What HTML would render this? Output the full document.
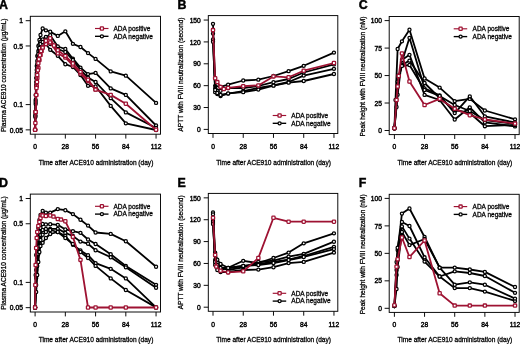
<!DOCTYPE html><html><head><meta charset="utf-8"><style>
html,body{margin:0;padding:0;background:#fff;width:520px;height:344px;overflow:hidden}
svg{display:block;will-change:transform}
.t{font-family:"Liberation Sans", sans-serif;font-size:6.7px;fill:#000;stroke:#000;stroke-width:0.4px}
.ti{font-family:"Liberation Sans", sans-serif;font-size:6.57px;fill:#000;stroke:#000;stroke-width:0.28px}
.lg{font-family:"Liberation Sans", sans-serif;font-size:6.5px;fill:#000;stroke:#000;stroke-width:0.28px}
.pl{font-family:"Liberation Sans", sans-serif;font-size:12.4px;font-weight:bold;fill:#000;stroke:#000;stroke-width:0.45px}
</style></head><body>
<svg width="520" height="344" viewBox="0 0 520 344">
<rect x="30.3" y="16.3" width="130.2" height="117.9" fill="none" stroke="#000" stroke-width="0.95"/><line x1="35.1" y1="134.2" x2="35.1" y2="138.6" stroke="#000" stroke-width="0.95"/><text x="35.1" y="149" text-anchor="middle" class="t">0</text><line x1="65.34" y1="134.2" x2="65.34" y2="138.6" stroke="#000" stroke-width="0.95"/><text x="65.34" y="149" text-anchor="middle" class="t">28</text><line x1="95.58" y1="134.2" x2="95.58" y2="138.6" stroke="#000" stroke-width="0.95"/><text x="95.58" y="149" text-anchor="middle" class="t">56</text><line x1="125.82" y1="134.2" x2="125.82" y2="138.6" stroke="#000" stroke-width="0.95"/><text x="125.82" y="149" text-anchor="middle" class="t">84</text><line x1="156.06" y1="134.2" x2="156.06" y2="138.6" stroke="#000" stroke-width="0.95"/><text x="156.06" y="149" text-anchor="middle" class="t">112</text><line x1="25.7" y1="20.7" x2="30.3" y2="20.7" stroke="#000" stroke-width="0.95"/><text x="22.9" y="23.35" text-anchor="end" class="t">1</text><line x1="25.7" y1="45.96" x2="30.3" y2="45.96" stroke="#000" stroke-width="0.95"/><text x="22.9" y="48.61" text-anchor="end" class="t">0.5</text><line x1="25.7" y1="104.6" x2="30.3" y2="104.6" stroke="#000" stroke-width="0.95"/><text x="22.9" y="107.25" text-anchor="end" class="t">0.1</text><line x1="25.7" y1="129.86" x2="30.3" y2="129.86" stroke="#000" stroke-width="0.95"/><text x="22.9" y="132.51" text-anchor="end" class="t">0.05</text><text x="96" y="164.6" text-anchor="middle" class="ti">Time after ACE910 administration (day)</text><text transform="translate(6,75.25) rotate(-90)" text-anchor="middle" class="ti">Plasma ACE910 concentration (μg/mL)</text>
<polyline fill="none" stroke="#000" stroke-width="1.8" stroke-linejoin="round" points="35.1,129.8 35.37,112 35.64,95 36.18,78 36.72,66 37.26,56 38.34,46 39.42,40 40.5,35 42.66,28.5 45.9,30.3 50.22,31.7 57.78,35.9 65.34,31.3 72.9,43.8 80.46,47 88.02,53.1 95.58,58.9 110.7,71.4 125.82,75.7 156.06,102.9"/><circle cx="35.1" cy="129.8" r="1.55" fill="#fff" stroke="#000" stroke-width="1.25"/><circle cx="35.37" cy="112" r="1.55" fill="#fff" stroke="#000" stroke-width="1.25"/><circle cx="35.64" cy="95" r="1.55" fill="#fff" stroke="#000" stroke-width="1.25"/><circle cx="36.18" cy="78" r="1.55" fill="#fff" stroke="#000" stroke-width="1.25"/><circle cx="36.72" cy="66" r="1.55" fill="#fff" stroke="#000" stroke-width="1.25"/><circle cx="37.26" cy="56" r="1.55" fill="#fff" stroke="#000" stroke-width="1.25"/><circle cx="38.34" cy="46" r="1.55" fill="#fff" stroke="#000" stroke-width="1.25"/><circle cx="39.42" cy="40" r="1.55" fill="#fff" stroke="#000" stroke-width="1.25"/><circle cx="40.5" cy="35" r="1.55" fill="#fff" stroke="#000" stroke-width="1.25"/><circle cx="42.66" cy="28.5" r="1.55" fill="#fff" stroke="#000" stroke-width="1.25"/><circle cx="45.9" cy="30.3" r="1.55" fill="#fff" stroke="#000" stroke-width="1.25"/><circle cx="50.22" cy="31.7" r="1.55" fill="#fff" stroke="#000" stroke-width="1.25"/><circle cx="57.78" cy="35.9" r="1.55" fill="#fff" stroke="#000" stroke-width="1.25"/><circle cx="65.34" cy="31.3" r="1.55" fill="#fff" stroke="#000" stroke-width="1.25"/><circle cx="72.9" cy="43.8" r="1.55" fill="#fff" stroke="#000" stroke-width="1.25"/><circle cx="80.46" cy="47" r="1.55" fill="#fff" stroke="#000" stroke-width="1.25"/><circle cx="88.02" cy="53.1" r="1.55" fill="#fff" stroke="#000" stroke-width="1.25"/><circle cx="95.58" cy="58.9" r="1.55" fill="#fff" stroke="#000" stroke-width="1.25"/><circle cx="110.7" cy="71.4" r="1.55" fill="#fff" stroke="#000" stroke-width="1.25"/><circle cx="125.82" cy="75.7" r="1.55" fill="#fff" stroke="#000" stroke-width="1.25"/><circle cx="156.06" cy="102.9" r="1.55" fill="#fff" stroke="#000" stroke-width="1.25"/>
<polyline fill="none" stroke="#000" stroke-width="1.8" stroke-linejoin="round" points="35.1,129.8 35.37,115 35.64,100 36.18,82 36.72,70 37.26,61 38.34,51 39.42,45 40.5,42 42.66,39.3 45.9,36.8 50.22,35.2 57.78,46.5 65.34,49 72.9,58.7 80.46,67.6 88.02,74.1 95.58,72.9 110.7,88.4 125.82,94.9 156.06,125.5"/><circle cx="35.1" cy="129.8" r="1.55" fill="#fff" stroke="#000" stroke-width="1.25"/><circle cx="35.37" cy="115" r="1.55" fill="#fff" stroke="#000" stroke-width="1.25"/><circle cx="35.64" cy="100" r="1.55" fill="#fff" stroke="#000" stroke-width="1.25"/><circle cx="36.18" cy="82" r="1.55" fill="#fff" stroke="#000" stroke-width="1.25"/><circle cx="36.72" cy="70" r="1.55" fill="#fff" stroke="#000" stroke-width="1.25"/><circle cx="37.26" cy="61" r="1.55" fill="#fff" stroke="#000" stroke-width="1.25"/><circle cx="38.34" cy="51" r="1.55" fill="#fff" stroke="#000" stroke-width="1.25"/><circle cx="39.42" cy="45" r="1.55" fill="#fff" stroke="#000" stroke-width="1.25"/><circle cx="40.5" cy="42" r="1.55" fill="#fff" stroke="#000" stroke-width="1.25"/><circle cx="42.66" cy="39.3" r="1.55" fill="#fff" stroke="#000" stroke-width="1.25"/><circle cx="45.9" cy="36.8" r="1.55" fill="#fff" stroke="#000" stroke-width="1.25"/><circle cx="50.22" cy="35.2" r="1.55" fill="#fff" stroke="#000" stroke-width="1.25"/><circle cx="57.78" cy="46.5" r="1.55" fill="#fff" stroke="#000" stroke-width="1.25"/><circle cx="65.34" cy="49" r="1.55" fill="#fff" stroke="#000" stroke-width="1.25"/><circle cx="72.9" cy="58.7" r="1.55" fill="#fff" stroke="#000" stroke-width="1.25"/><circle cx="80.46" cy="67.6" r="1.55" fill="#fff" stroke="#000" stroke-width="1.25"/><circle cx="88.02" cy="74.1" r="1.55" fill="#fff" stroke="#000" stroke-width="1.25"/><circle cx="95.58" cy="72.9" r="1.55" fill="#fff" stroke="#000" stroke-width="1.25"/><circle cx="110.7" cy="88.4" r="1.55" fill="#fff" stroke="#000" stroke-width="1.25"/><circle cx="125.82" cy="94.9" r="1.55" fill="#fff" stroke="#000" stroke-width="1.25"/><circle cx="156.06" cy="125.5" r="1.55" fill="#fff" stroke="#000" stroke-width="1.25"/>
<polyline fill="none" stroke="#000" stroke-width="1.8" stroke-linejoin="round" points="35.1,129.8 35.37,117 35.64,104 36.18,87 36.72,75 37.26,66 38.34,56 39.42,50 40.5,47 42.66,45 45.9,44 50.22,49.8 57.78,55.8 65.34,64.2 72.9,67 80.46,75 88.02,85.8 95.58,86.3 110.7,105.9 125.82,123.3 156.06,130"/><circle cx="35.1" cy="129.8" r="1.55" fill="#fff" stroke="#000" stroke-width="1.25"/><circle cx="35.37" cy="117" r="1.55" fill="#fff" stroke="#000" stroke-width="1.25"/><circle cx="35.64" cy="104" r="1.55" fill="#fff" stroke="#000" stroke-width="1.25"/><circle cx="36.18" cy="87" r="1.55" fill="#fff" stroke="#000" stroke-width="1.25"/><circle cx="36.72" cy="75" r="1.55" fill="#fff" stroke="#000" stroke-width="1.25"/><circle cx="37.26" cy="66" r="1.55" fill="#fff" stroke="#000" stroke-width="1.25"/><circle cx="38.34" cy="56" r="1.55" fill="#fff" stroke="#000" stroke-width="1.25"/><circle cx="39.42" cy="50" r="1.55" fill="#fff" stroke="#000" stroke-width="1.25"/><circle cx="40.5" cy="47" r="1.55" fill="#fff" stroke="#000" stroke-width="1.25"/><circle cx="42.66" cy="45" r="1.55" fill="#fff" stroke="#000" stroke-width="1.25"/><circle cx="45.9" cy="44" r="1.55" fill="#fff" stroke="#000" stroke-width="1.25"/><circle cx="50.22" cy="49.8" r="1.55" fill="#fff" stroke="#000" stroke-width="1.25"/><circle cx="57.78" cy="55.8" r="1.55" fill="#fff" stroke="#000" stroke-width="1.25"/><circle cx="65.34" cy="64.2" r="1.55" fill="#fff" stroke="#000" stroke-width="1.25"/><circle cx="72.9" cy="67" r="1.55" fill="#fff" stroke="#000" stroke-width="1.25"/><circle cx="80.46" cy="75" r="1.55" fill="#fff" stroke="#000" stroke-width="1.25"/><circle cx="88.02" cy="85.8" r="1.55" fill="#fff" stroke="#000" stroke-width="1.25"/><circle cx="95.58" cy="86.3" r="1.55" fill="#fff" stroke="#000" stroke-width="1.25"/><circle cx="110.7" cy="105.9" r="1.55" fill="#fff" stroke="#000" stroke-width="1.25"/><circle cx="125.82" cy="123.3" r="1.55" fill="#fff" stroke="#000" stroke-width="1.25"/><circle cx="156.06" cy="130" r="1.55" fill="#fff" stroke="#000" stroke-width="1.25"/>
<polyline fill="none" stroke="#000" stroke-width="1.8" stroke-linejoin="round" points="35.1,129.8 35.37,116 35.64,102 36.18,85 36.72,73 37.26,64 38.34,54 39.42,48 40.5,44 42.66,42 45.9,40 50.22,44 57.78,49 65.34,52 72.9,60 80.46,70 88.02,77.6 95.58,82 110.7,98.2 125.82,112.4 156.06,128"/><circle cx="35.1" cy="129.8" r="1.55" fill="#fff" stroke="#000" stroke-width="1.25"/><circle cx="35.37" cy="116" r="1.55" fill="#fff" stroke="#000" stroke-width="1.25"/><circle cx="35.64" cy="102" r="1.55" fill="#fff" stroke="#000" stroke-width="1.25"/><circle cx="36.18" cy="85" r="1.55" fill="#fff" stroke="#000" stroke-width="1.25"/><circle cx="36.72" cy="73" r="1.55" fill="#fff" stroke="#000" stroke-width="1.25"/><circle cx="37.26" cy="64" r="1.55" fill="#fff" stroke="#000" stroke-width="1.25"/><circle cx="38.34" cy="54" r="1.55" fill="#fff" stroke="#000" stroke-width="1.25"/><circle cx="39.42" cy="48" r="1.55" fill="#fff" stroke="#000" stroke-width="1.25"/><circle cx="40.5" cy="44" r="1.55" fill="#fff" stroke="#000" stroke-width="1.25"/><circle cx="42.66" cy="42" r="1.55" fill="#fff" stroke="#000" stroke-width="1.25"/><circle cx="45.9" cy="40" r="1.55" fill="#fff" stroke="#000" stroke-width="1.25"/><circle cx="50.22" cy="44" r="1.55" fill="#fff" stroke="#000" stroke-width="1.25"/><circle cx="57.78" cy="49" r="1.55" fill="#fff" stroke="#000" stroke-width="1.25"/><circle cx="65.34" cy="52" r="1.55" fill="#fff" stroke="#000" stroke-width="1.25"/><circle cx="72.9" cy="60" r="1.55" fill="#fff" stroke="#000" stroke-width="1.25"/><circle cx="80.46" cy="70" r="1.55" fill="#fff" stroke="#000" stroke-width="1.25"/><circle cx="88.02" cy="77.6" r="1.55" fill="#fff" stroke="#000" stroke-width="1.25"/><circle cx="95.58" cy="82" r="1.55" fill="#fff" stroke="#000" stroke-width="1.25"/><circle cx="110.7" cy="98.2" r="1.55" fill="#fff" stroke="#000" stroke-width="1.25"/><circle cx="125.82" cy="112.4" r="1.55" fill="#fff" stroke="#000" stroke-width="1.25"/><circle cx="156.06" cy="128" r="1.55" fill="#fff" stroke="#000" stroke-width="1.25"/>
<polyline fill="none" stroke="#9e1232" stroke-width="1.8" stroke-linejoin="round" points="35.1,129.8 35.64,112 36.18,95 36.72,86 37.26,78 38.34,68 39.42,60 40.5,55 41.58,51 42.66,47.6 45.9,44.1 50.22,42.4 57.78,53.3 65.34,57.6 72.9,65.3 80.46,73.5 88.02,81.1 95.58,89.6"/><rect x="33.5" y="128.2" width="3.2" height="3.2" rx="0.7" fill="#fff" stroke="#9e1232" stroke-width="1.3"/><rect x="34.04" y="110.4" width="3.2" height="3.2" rx="0.7" fill="#fff" stroke="#9e1232" stroke-width="1.3"/><rect x="34.58" y="93.4" width="3.2" height="3.2" rx="0.7" fill="#fff" stroke="#9e1232" stroke-width="1.3"/><rect x="35.12" y="84.4" width="3.2" height="3.2" rx="0.7" fill="#fff" stroke="#9e1232" stroke-width="1.3"/><rect x="35.66" y="76.4" width="3.2" height="3.2" rx="0.7" fill="#fff" stroke="#9e1232" stroke-width="1.3"/><rect x="36.74" y="66.4" width="3.2" height="3.2" rx="0.7" fill="#fff" stroke="#9e1232" stroke-width="1.3"/><rect x="37.82" y="58.4" width="3.2" height="3.2" rx="0.7" fill="#fff" stroke="#9e1232" stroke-width="1.3"/><rect x="38.9" y="53.4" width="3.2" height="3.2" rx="0.7" fill="#fff" stroke="#9e1232" stroke-width="1.3"/><rect x="39.98" y="49.4" width="3.2" height="3.2" rx="0.7" fill="#fff" stroke="#9e1232" stroke-width="1.3"/><rect x="41.06" y="46" width="3.2" height="3.2" rx="0.7" fill="#fff" stroke="#9e1232" stroke-width="1.3"/><rect x="44.3" y="42.5" width="3.2" height="3.2" rx="0.7" fill="#fff" stroke="#9e1232" stroke-width="1.3"/><rect x="48.62" y="40.8" width="3.2" height="3.2" rx="0.7" fill="#fff" stroke="#9e1232" stroke-width="1.3"/><rect x="56.18" y="51.7" width="3.2" height="3.2" rx="0.7" fill="#fff" stroke="#9e1232" stroke-width="1.3"/><rect x="63.74" y="56" width="3.2" height="3.2" rx="0.7" fill="#fff" stroke="#9e1232" stroke-width="1.3"/><rect x="71.3" y="63.7" width="3.2" height="3.2" rx="0.7" fill="#fff" stroke="#9e1232" stroke-width="1.3"/><rect x="78.86" y="71.9" width="3.2" height="3.2" rx="0.7" fill="#fff" stroke="#9e1232" stroke-width="1.3"/><rect x="86.42" y="79.5" width="3.2" height="3.2" rx="0.7" fill="#fff" stroke="#9e1232" stroke-width="1.3"/><rect x="93.98" y="88" width="3.2" height="3.2" rx="0.7" fill="#fff" stroke="#9e1232" stroke-width="1.3"/>
<polyline fill="none" stroke="#9e1232" stroke-width="1.8" stroke-linejoin="round" points="35.1,129.8 35.37,123 35.64,112 36.18,95 36.45,88 36.99,82 37.26,75 37.8,70.3 38.34,63.3 38.88,59.3 39.96,55.2 41.04,51.1 42.66,47.6 45.9,40.7 50.22,38.3 54,45.5 57.78,50.2 65.34,55.9 72.9,63.5 80.46,71.9 88.02,79.8 95.58,89.6 110.7,94.9 125.82,103.7 156.06,129.8"/><rect x="33.5" y="128.2" width="3.2" height="3.2" rx="0.7" fill="#fff" stroke="#9e1232" stroke-width="1.3"/><rect x="33.77" y="121.4" width="3.2" height="3.2" rx="0.7" fill="#fff" stroke="#9e1232" stroke-width="1.3"/><rect x="34.04" y="110.4" width="3.2" height="3.2" rx="0.7" fill="#fff" stroke="#9e1232" stroke-width="1.3"/><rect x="34.58" y="93.4" width="3.2" height="3.2" rx="0.7" fill="#fff" stroke="#9e1232" stroke-width="1.3"/><rect x="34.85" y="86.4" width="3.2" height="3.2" rx="0.7" fill="#fff" stroke="#9e1232" stroke-width="1.3"/><rect x="35.39" y="80.4" width="3.2" height="3.2" rx="0.7" fill="#fff" stroke="#9e1232" stroke-width="1.3"/><rect x="35.66" y="73.4" width="3.2" height="3.2" rx="0.7" fill="#fff" stroke="#9e1232" stroke-width="1.3"/><rect x="36.2" y="68.7" width="3.2" height="3.2" rx="0.7" fill="#fff" stroke="#9e1232" stroke-width="1.3"/><rect x="36.74" y="61.7" width="3.2" height="3.2" rx="0.7" fill="#fff" stroke="#9e1232" stroke-width="1.3"/><rect x="37.28" y="57.7" width="3.2" height="3.2" rx="0.7" fill="#fff" stroke="#9e1232" stroke-width="1.3"/><rect x="38.36" y="53.6" width="3.2" height="3.2" rx="0.7" fill="#fff" stroke="#9e1232" stroke-width="1.3"/><rect x="39.44" y="49.5" width="3.2" height="3.2" rx="0.7" fill="#fff" stroke="#9e1232" stroke-width="1.3"/><rect x="41.06" y="46" width="3.2" height="3.2" rx="0.7" fill="#fff" stroke="#9e1232" stroke-width="1.3"/><rect x="44.3" y="39.1" width="3.2" height="3.2" rx="0.7" fill="#fff" stroke="#9e1232" stroke-width="1.3"/><rect x="48.62" y="36.7" width="3.2" height="3.2" rx="0.7" fill="#fff" stroke="#9e1232" stroke-width="1.3"/><rect x="52.4" y="43.9" width="3.2" height="3.2" rx="0.7" fill="#fff" stroke="#9e1232" stroke-width="1.3"/><rect x="56.18" y="48.6" width="3.2" height="3.2" rx="0.7" fill="#fff" stroke="#9e1232" stroke-width="1.3"/><rect x="63.74" y="54.3" width="3.2" height="3.2" rx="0.7" fill="#fff" stroke="#9e1232" stroke-width="1.3"/><rect x="71.3" y="61.9" width="3.2" height="3.2" rx="0.7" fill="#fff" stroke="#9e1232" stroke-width="1.3"/><rect x="78.86" y="70.3" width="3.2" height="3.2" rx="0.7" fill="#fff" stroke="#9e1232" stroke-width="1.3"/><rect x="86.42" y="78.2" width="3.2" height="3.2" rx="0.7" fill="#fff" stroke="#9e1232" stroke-width="1.3"/><rect x="93.98" y="88" width="3.2" height="3.2" rx="0.7" fill="#fff" stroke="#9e1232" stroke-width="1.3"/><rect x="109.1" y="93.3" width="3.2" height="3.2" rx="0.7" fill="#fff" stroke="#9e1232" stroke-width="1.3"/><rect x="124.22" y="102.1" width="3.2" height="3.2" rx="0.7" fill="#fff" stroke="#9e1232" stroke-width="1.3"/><rect x="154.46" y="128.2" width="3.2" height="3.2" rx="0.7" fill="#fff" stroke="#9e1232" stroke-width="1.3"/>
<line x1="95" y1="28.5" x2="108.5" y2="28.5" stroke="#9e1232" stroke-width="1.15"/><rect x="100.3" y="26.9" width="3.2" height="3.2" rx="0.7" fill="#fff" stroke="#9e1232" stroke-width="1.3"/><text x="113.5" y="30.8" class="lg">ADA positive</text><line x1="95" y1="36.3" x2="108.5" y2="36.3" stroke="#000" stroke-width="1.35"/><circle cx="101.9" cy="36.3" r="1.55" fill="#fff" stroke="#000" stroke-width="1.25"/><text x="113.5" y="38.6" class="lg">ADA negative</text>
<text x="-0.9" y="8.7" class="pl">A</text>
<rect x="30.3" y="194.1" width="130.2" height="117.9" fill="none" stroke="#000" stroke-width="0.95"/><line x1="35.1" y1="312" x2="35.1" y2="316.4" stroke="#000" stroke-width="0.95"/><text x="35.1" y="326.8" text-anchor="middle" class="t">0</text><line x1="65.34" y1="312" x2="65.34" y2="316.4" stroke="#000" stroke-width="0.95"/><text x="65.34" y="326.8" text-anchor="middle" class="t">28</text><line x1="95.58" y1="312" x2="95.58" y2="316.4" stroke="#000" stroke-width="0.95"/><text x="95.58" y="326.8" text-anchor="middle" class="t">56</text><line x1="125.82" y1="312" x2="125.82" y2="316.4" stroke="#000" stroke-width="0.95"/><text x="125.82" y="326.8" text-anchor="middle" class="t">84</text><line x1="156.06" y1="312" x2="156.06" y2="316.4" stroke="#000" stroke-width="0.95"/><text x="156.06" y="326.8" text-anchor="middle" class="t">112</text><line x1="25.7" y1="198.5" x2="30.3" y2="198.5" stroke="#000" stroke-width="0.95"/><text x="22.9" y="201.15" text-anchor="end" class="t">1</text><line x1="25.7" y1="223.76" x2="30.3" y2="223.76" stroke="#000" stroke-width="0.95"/><text x="22.9" y="226.41" text-anchor="end" class="t">0.5</text><line x1="25.7" y1="282.4" x2="30.3" y2="282.4" stroke="#000" stroke-width="0.95"/><text x="22.9" y="285.05" text-anchor="end" class="t">0.1</text><line x1="25.7" y1="307.66" x2="30.3" y2="307.66" stroke="#000" stroke-width="0.95"/><text x="22.9" y="310.31" text-anchor="end" class="t">0.05</text><text x="96" y="342.4" text-anchor="middle" class="ti">Time after ACE910 administration (day)</text><text transform="translate(6,253.05) rotate(-90)" text-anchor="middle" class="ti">Plasma ACE910 concentration (μg/mL)</text>
<polyline fill="none" stroke="#000" stroke-width="1.8" stroke-linejoin="round" points="35.1,307.5 35.64,275 36.18,255 37.26,238 38.34,228 39.42,220 40.5,215 42.66,210.8 45.9,212.6 50.22,212.6 57.78,209.1 65.34,210.2 72.9,214.1 80.46,219.7 88.02,225.6 95.58,232.5 110.7,233.9 125.82,241.2 156.06,266.7"/><circle cx="35.1" cy="307.5" r="1.55" fill="#fff" stroke="#000" stroke-width="1.25"/><circle cx="35.64" cy="275" r="1.55" fill="#fff" stroke="#000" stroke-width="1.25"/><circle cx="36.18" cy="255" r="1.55" fill="#fff" stroke="#000" stroke-width="1.25"/><circle cx="37.26" cy="238" r="1.55" fill="#fff" stroke="#000" stroke-width="1.25"/><circle cx="38.34" cy="228" r="1.55" fill="#fff" stroke="#000" stroke-width="1.25"/><circle cx="39.42" cy="220" r="1.55" fill="#fff" stroke="#000" stroke-width="1.25"/><circle cx="40.5" cy="215" r="1.55" fill="#fff" stroke="#000" stroke-width="1.25"/><circle cx="42.66" cy="210.8" r="1.55" fill="#fff" stroke="#000" stroke-width="1.25"/><circle cx="45.9" cy="212.6" r="1.55" fill="#fff" stroke="#000" stroke-width="1.25"/><circle cx="50.22" cy="212.6" r="1.55" fill="#fff" stroke="#000" stroke-width="1.25"/><circle cx="57.78" cy="209.1" r="1.55" fill="#fff" stroke="#000" stroke-width="1.25"/><circle cx="65.34" cy="210.2" r="1.55" fill="#fff" stroke="#000" stroke-width="1.25"/><circle cx="72.9" cy="214.1" r="1.55" fill="#fff" stroke="#000" stroke-width="1.25"/><circle cx="80.46" cy="219.7" r="1.55" fill="#fff" stroke="#000" stroke-width="1.25"/><circle cx="88.02" cy="225.6" r="1.55" fill="#fff" stroke="#000" stroke-width="1.25"/><circle cx="95.58" cy="232.5" r="1.55" fill="#fff" stroke="#000" stroke-width="1.25"/><circle cx="110.7" cy="233.9" r="1.55" fill="#fff" stroke="#000" stroke-width="1.25"/><circle cx="125.82" cy="241.2" r="1.55" fill="#fff" stroke="#000" stroke-width="1.25"/><circle cx="156.06" cy="266.7" r="1.55" fill="#fff" stroke="#000" stroke-width="1.25"/>
<polyline fill="none" stroke="#000" stroke-width="1.8" stroke-linejoin="round" points="35.1,307.5 36.18,270 37.26,252 38.34,240 39.42,232 40.5,228 42.66,224 45.9,224.5 50.22,224.2 57.78,224.8 65.34,229.4 72.9,231.2 80.46,232.8 88.02,239.5 95.58,244 110.7,254.2 125.82,265.9 156.06,284.8"/><circle cx="35.1" cy="307.5" r="1.55" fill="#fff" stroke="#000" stroke-width="1.25"/><circle cx="36.18" cy="270" r="1.55" fill="#fff" stroke="#000" stroke-width="1.25"/><circle cx="37.26" cy="252" r="1.55" fill="#fff" stroke="#000" stroke-width="1.25"/><circle cx="38.34" cy="240" r="1.55" fill="#fff" stroke="#000" stroke-width="1.25"/><circle cx="39.42" cy="232" r="1.55" fill="#fff" stroke="#000" stroke-width="1.25"/><circle cx="40.5" cy="228" r="1.55" fill="#fff" stroke="#000" stroke-width="1.25"/><circle cx="42.66" cy="224" r="1.55" fill="#fff" stroke="#000" stroke-width="1.25"/><circle cx="45.9" cy="224.5" r="1.55" fill="#fff" stroke="#000" stroke-width="1.25"/><circle cx="50.22" cy="224.2" r="1.55" fill="#fff" stroke="#000" stroke-width="1.25"/><circle cx="57.78" cy="224.8" r="1.55" fill="#fff" stroke="#000" stroke-width="1.25"/><circle cx="65.34" cy="229.4" r="1.55" fill="#fff" stroke="#000" stroke-width="1.25"/><circle cx="72.9" cy="231.2" r="1.55" fill="#fff" stroke="#000" stroke-width="1.25"/><circle cx="80.46" cy="232.8" r="1.55" fill="#fff" stroke="#000" stroke-width="1.25"/><circle cx="88.02" cy="239.5" r="1.55" fill="#fff" stroke="#000" stroke-width="1.25"/><circle cx="95.58" cy="244" r="1.55" fill="#fff" stroke="#000" stroke-width="1.25"/><circle cx="110.7" cy="254.2" r="1.55" fill="#fff" stroke="#000" stroke-width="1.25"/><circle cx="125.82" cy="265.9" r="1.55" fill="#fff" stroke="#000" stroke-width="1.25"/><circle cx="156.06" cy="284.8" r="1.55" fill="#fff" stroke="#000" stroke-width="1.25"/>
<polyline fill="none" stroke="#000" stroke-width="1.8" stroke-linejoin="round" points="35.1,307.5 36.18,278 37.26,260 38.34,248 39.42,240 40.5,235 42.66,230 45.9,229 50.22,228.8 57.78,228.8 65.34,232.9 72.9,236 80.46,241.6 88.02,243.7 95.58,250.2 110.7,257.2 125.82,267.3 156.06,287.7"/><circle cx="35.1" cy="307.5" r="1.55" fill="#fff" stroke="#000" stroke-width="1.25"/><circle cx="36.18" cy="278" r="1.55" fill="#fff" stroke="#000" stroke-width="1.25"/><circle cx="37.26" cy="260" r="1.55" fill="#fff" stroke="#000" stroke-width="1.25"/><circle cx="38.34" cy="248" r="1.55" fill="#fff" stroke="#000" stroke-width="1.25"/><circle cx="39.42" cy="240" r="1.55" fill="#fff" stroke="#000" stroke-width="1.25"/><circle cx="40.5" cy="235" r="1.55" fill="#fff" stroke="#000" stroke-width="1.25"/><circle cx="42.66" cy="230" r="1.55" fill="#fff" stroke="#000" stroke-width="1.25"/><circle cx="45.9" cy="229" r="1.55" fill="#fff" stroke="#000" stroke-width="1.25"/><circle cx="50.22" cy="228.8" r="1.55" fill="#fff" stroke="#000" stroke-width="1.25"/><circle cx="57.78" cy="228.8" r="1.55" fill="#fff" stroke="#000" stroke-width="1.25"/><circle cx="65.34" cy="232.9" r="1.55" fill="#fff" stroke="#000" stroke-width="1.25"/><circle cx="72.9" cy="236" r="1.55" fill="#fff" stroke="#000" stroke-width="1.25"/><circle cx="80.46" cy="241.6" r="1.55" fill="#fff" stroke="#000" stroke-width="1.25"/><circle cx="88.02" cy="243.7" r="1.55" fill="#fff" stroke="#000" stroke-width="1.25"/><circle cx="95.58" cy="250.2" r="1.55" fill="#fff" stroke="#000" stroke-width="1.25"/><circle cx="110.7" cy="257.2" r="1.55" fill="#fff" stroke="#000" stroke-width="1.25"/><circle cx="125.82" cy="267.3" r="1.55" fill="#fff" stroke="#000" stroke-width="1.25"/><circle cx="156.06" cy="287.7" r="1.55" fill="#fff" stroke="#000" stroke-width="1.25"/>
<polyline fill="none" stroke="#000" stroke-width="1.8" stroke-linejoin="round" points="35.1,307.5 36.18,285 37.26,266 38.34,254 39.42,246 40.5,240 42.66,234.7 45.9,232 50.22,230 57.78,232 65.34,236 72.9,244.8 80.46,250.4 88.02,255.2 95.58,263.2 110.7,268.8 125.82,278.4 156.06,307.4"/><circle cx="35.1" cy="307.5" r="1.55" fill="#fff" stroke="#000" stroke-width="1.25"/><circle cx="36.18" cy="285" r="1.55" fill="#fff" stroke="#000" stroke-width="1.25"/><circle cx="37.26" cy="266" r="1.55" fill="#fff" stroke="#000" stroke-width="1.25"/><circle cx="38.34" cy="254" r="1.55" fill="#fff" stroke="#000" stroke-width="1.25"/><circle cx="39.42" cy="246" r="1.55" fill="#fff" stroke="#000" stroke-width="1.25"/><circle cx="40.5" cy="240" r="1.55" fill="#fff" stroke="#000" stroke-width="1.25"/><circle cx="42.66" cy="234.7" r="1.55" fill="#fff" stroke="#000" stroke-width="1.25"/><circle cx="45.9" cy="232" r="1.55" fill="#fff" stroke="#000" stroke-width="1.25"/><circle cx="50.22" cy="230" r="1.55" fill="#fff" stroke="#000" stroke-width="1.25"/><circle cx="57.78" cy="232" r="1.55" fill="#fff" stroke="#000" stroke-width="1.25"/><circle cx="65.34" cy="236" r="1.55" fill="#fff" stroke="#000" stroke-width="1.25"/><circle cx="72.9" cy="244.8" r="1.55" fill="#fff" stroke="#000" stroke-width="1.25"/><circle cx="80.46" cy="250.4" r="1.55" fill="#fff" stroke="#000" stroke-width="1.25"/><circle cx="88.02" cy="255.2" r="1.55" fill="#fff" stroke="#000" stroke-width="1.25"/><circle cx="95.58" cy="263.2" r="1.55" fill="#fff" stroke="#000" stroke-width="1.25"/><circle cx="110.7" cy="268.8" r="1.55" fill="#fff" stroke="#000" stroke-width="1.25"/><circle cx="125.82" cy="278.4" r="1.55" fill="#fff" stroke="#000" stroke-width="1.25"/><circle cx="156.06" cy="307.4" r="1.55" fill="#fff" stroke="#000" stroke-width="1.25"/>
<polyline fill="none" stroke="#000" stroke-width="1.8" stroke-linejoin="round" points="35.1,307.5 36.18,292 37.26,275 38.34,262 39.42,252 40.5,246 42.66,242.8 45.9,238 50.22,234 57.78,232 65.34,238 72.9,244 80.46,252 88.02,258 95.58,265.9 110.7,278.4 125.82,290 156.06,307.4"/><circle cx="35.1" cy="307.5" r="1.55" fill="#fff" stroke="#000" stroke-width="1.25"/><circle cx="36.18" cy="292" r="1.55" fill="#fff" stroke="#000" stroke-width="1.25"/><circle cx="37.26" cy="275" r="1.55" fill="#fff" stroke="#000" stroke-width="1.25"/><circle cx="38.34" cy="262" r="1.55" fill="#fff" stroke="#000" stroke-width="1.25"/><circle cx="39.42" cy="252" r="1.55" fill="#fff" stroke="#000" stroke-width="1.25"/><circle cx="40.5" cy="246" r="1.55" fill="#fff" stroke="#000" stroke-width="1.25"/><circle cx="42.66" cy="242.8" r="1.55" fill="#fff" stroke="#000" stroke-width="1.25"/><circle cx="45.9" cy="238" r="1.55" fill="#fff" stroke="#000" stroke-width="1.25"/><circle cx="50.22" cy="234" r="1.55" fill="#fff" stroke="#000" stroke-width="1.25"/><circle cx="57.78" cy="232" r="1.55" fill="#fff" stroke="#000" stroke-width="1.25"/><circle cx="65.34" cy="238" r="1.55" fill="#fff" stroke="#000" stroke-width="1.25"/><circle cx="72.9" cy="244" r="1.55" fill="#fff" stroke="#000" stroke-width="1.25"/><circle cx="80.46" cy="252" r="1.55" fill="#fff" stroke="#000" stroke-width="1.25"/><circle cx="88.02" cy="258" r="1.55" fill="#fff" stroke="#000" stroke-width="1.25"/><circle cx="95.58" cy="265.9" r="1.55" fill="#fff" stroke="#000" stroke-width="1.25"/><circle cx="110.7" cy="278.4" r="1.55" fill="#fff" stroke="#000" stroke-width="1.25"/><circle cx="125.82" cy="290" r="1.55" fill="#fff" stroke="#000" stroke-width="1.25"/><circle cx="156.06" cy="307.4" r="1.55" fill="#fff" stroke="#000" stroke-width="1.25"/>
<polyline fill="none" stroke="#9e1232" stroke-width="1.8" stroke-linejoin="round" points="35.1,307.5 35.37,285 35.64,265 36.18,248 36.72,238 37.26,232 38.34,226 39.42,222 40.5,218 41.58,215 42.66,215.5 45.9,216 50.22,215.5 53.46,216.6 57.78,219 61.02,219.6 65.34,221.3 72.9,236.9 80.46,259.9 88.02,307.5 95.58,307.5 110.7,307.5 125.82,307.5 156.06,307.5"/><rect x="33.5" y="305.9" width="3.2" height="3.2" rx="0.7" fill="#fff" stroke="#9e1232" stroke-width="1.3"/><rect x="33.77" y="283.4" width="3.2" height="3.2" rx="0.7" fill="#fff" stroke="#9e1232" stroke-width="1.3"/><rect x="34.04" y="263.4" width="3.2" height="3.2" rx="0.7" fill="#fff" stroke="#9e1232" stroke-width="1.3"/><rect x="34.58" y="246.4" width="3.2" height="3.2" rx="0.7" fill="#fff" stroke="#9e1232" stroke-width="1.3"/><rect x="35.12" y="236.4" width="3.2" height="3.2" rx="0.7" fill="#fff" stroke="#9e1232" stroke-width="1.3"/><rect x="35.66" y="230.4" width="3.2" height="3.2" rx="0.7" fill="#fff" stroke="#9e1232" stroke-width="1.3"/><rect x="36.74" y="224.4" width="3.2" height="3.2" rx="0.7" fill="#fff" stroke="#9e1232" stroke-width="1.3"/><rect x="37.82" y="220.4" width="3.2" height="3.2" rx="0.7" fill="#fff" stroke="#9e1232" stroke-width="1.3"/><rect x="38.9" y="216.4" width="3.2" height="3.2" rx="0.7" fill="#fff" stroke="#9e1232" stroke-width="1.3"/><rect x="39.98" y="213.4" width="3.2" height="3.2" rx="0.7" fill="#fff" stroke="#9e1232" stroke-width="1.3"/><rect x="41.06" y="213.9" width="3.2" height="3.2" rx="0.7" fill="#fff" stroke="#9e1232" stroke-width="1.3"/><rect x="44.3" y="214.4" width="3.2" height="3.2" rx="0.7" fill="#fff" stroke="#9e1232" stroke-width="1.3"/><rect x="48.62" y="213.9" width="3.2" height="3.2" rx="0.7" fill="#fff" stroke="#9e1232" stroke-width="1.3"/><rect x="51.86" y="215" width="3.2" height="3.2" rx="0.7" fill="#fff" stroke="#9e1232" stroke-width="1.3"/><rect x="56.18" y="217.4" width="3.2" height="3.2" rx="0.7" fill="#fff" stroke="#9e1232" stroke-width="1.3"/><rect x="59.42" y="218" width="3.2" height="3.2" rx="0.7" fill="#fff" stroke="#9e1232" stroke-width="1.3"/><rect x="63.74" y="219.7" width="3.2" height="3.2" rx="0.7" fill="#fff" stroke="#9e1232" stroke-width="1.3"/><rect x="71.3" y="235.3" width="3.2" height="3.2" rx="0.7" fill="#fff" stroke="#9e1232" stroke-width="1.3"/><rect x="78.86" y="258.3" width="3.2" height="3.2" rx="0.7" fill="#fff" stroke="#9e1232" stroke-width="1.3"/><rect x="86.42" y="305.9" width="3.2" height="3.2" rx="0.7" fill="#fff" stroke="#9e1232" stroke-width="1.3"/><rect x="93.98" y="305.9" width="3.2" height="3.2" rx="0.7" fill="#fff" stroke="#9e1232" stroke-width="1.3"/><rect x="109.1" y="305.9" width="3.2" height="3.2" rx="0.7" fill="#fff" stroke="#9e1232" stroke-width="1.3"/><rect x="124.22" y="305.9" width="3.2" height="3.2" rx="0.7" fill="#fff" stroke="#9e1232" stroke-width="1.3"/><rect x="154.46" y="305.9" width="3.2" height="3.2" rx="0.7" fill="#fff" stroke="#9e1232" stroke-width="1.3"/>
<line x1="95" y1="206.3" x2="108.5" y2="206.3" stroke="#9e1232" stroke-width="1.15"/><rect x="100.3" y="204.7" width="3.2" height="3.2" rx="0.7" fill="#fff" stroke="#9e1232" stroke-width="1.3"/><text x="113.5" y="208.6" class="lg">ADA positive</text><line x1="95" y1="214.1" x2="108.5" y2="214.1" stroke="#000" stroke-width="1.35"/><circle cx="101.9" cy="214.1" r="1.55" fill="#fff" stroke="#000" stroke-width="1.25"/><text x="113.5" y="216.4" class="lg">ADA negative</text>
<text x="-0.9" y="187.1" class="pl">D</text>
<rect x="208.3" y="15.6" width="129.5" height="117.9" fill="none" stroke="#000" stroke-width="0.95"/><line x1="213" y1="133.5" x2="213" y2="137.9" stroke="#000" stroke-width="0.95"/><text x="213" y="149" text-anchor="middle" class="t">0</text><line x1="243.24" y1="133.5" x2="243.24" y2="137.9" stroke="#000" stroke-width="0.95"/><text x="243.24" y="149" text-anchor="middle" class="t">28</text><line x1="273.48" y1="133.5" x2="273.48" y2="137.9" stroke="#000" stroke-width="0.95"/><text x="273.48" y="149" text-anchor="middle" class="t">56</text><line x1="303.72" y1="133.5" x2="303.72" y2="137.9" stroke="#000" stroke-width="0.95"/><text x="303.72" y="149" text-anchor="middle" class="t">84</text><line x1="333.96" y1="133.5" x2="333.96" y2="137.9" stroke="#000" stroke-width="0.95"/><text x="333.96" y="149" text-anchor="middle" class="t">112</text><line x1="203.7" y1="20.05" x2="208.3" y2="20.05" stroke="#000" stroke-width="0.95"/><text x="200.8" y="22.7" text-anchor="end" class="t">150</text><line x1="203.7" y1="41.92" x2="208.3" y2="41.92" stroke="#000" stroke-width="0.95"/><text x="200.8" y="44.57" text-anchor="end" class="t">120</text><line x1="203.7" y1="63.79" x2="208.3" y2="63.79" stroke="#000" stroke-width="0.95"/><text x="200.8" y="66.44" text-anchor="end" class="t">90</text><line x1="203.7" y1="85.66" x2="208.3" y2="85.66" stroke="#000" stroke-width="0.95"/><text x="200.8" y="88.31" text-anchor="end" class="t">60</text><line x1="203.7" y1="107.53" x2="208.3" y2="107.53" stroke="#000" stroke-width="0.95"/><text x="200.8" y="110.18" text-anchor="end" class="t">30</text><line x1="203.7" y1="129.4" x2="208.3" y2="129.4" stroke="#000" stroke-width="0.95"/><text x="200.8" y="132.05" text-anchor="end" class="t">0</text><text x="273.65" y="164.6" text-anchor="middle" class="ti">Time after ACE910 administration (day)</text><text transform="translate(183.2,74.55) rotate(-90)" text-anchor="middle" class="ti">APTT with FVIII neutralization (second)</text>
<polyline fill="none" stroke="#000" stroke-width="1.8" stroke-linejoin="round" points="213,23.8 215.16,85.8 220.56,86.9 228.12,84.7 243.24,80.5 258.36,79.7 273.48,76 288.6,71.2 303.72,65.8 333.96,52.6"/><circle cx="213" cy="23.8" r="1.55" fill="#fff" stroke="#000" stroke-width="1.25"/><circle cx="215.16" cy="85.8" r="1.55" fill="#fff" stroke="#000" stroke-width="1.25"/><circle cx="220.56" cy="86.9" r="1.55" fill="#fff" stroke="#000" stroke-width="1.25"/><circle cx="228.12" cy="84.7" r="1.55" fill="#fff" stroke="#000" stroke-width="1.25"/><circle cx="243.24" cy="80.5" r="1.55" fill="#fff" stroke="#000" stroke-width="1.25"/><circle cx="258.36" cy="79.7" r="1.55" fill="#fff" stroke="#000" stroke-width="1.25"/><circle cx="273.48" cy="76" r="1.55" fill="#fff" stroke="#000" stroke-width="1.25"/><circle cx="288.6" cy="71.2" r="1.55" fill="#fff" stroke="#000" stroke-width="1.25"/><circle cx="303.72" cy="65.8" r="1.55" fill="#fff" stroke="#000" stroke-width="1.25"/><circle cx="333.96" cy="52.6" r="1.55" fill="#fff" stroke="#000" stroke-width="1.25"/>
<polyline fill="none" stroke="#000" stroke-width="1.8" stroke-linejoin="round" points="213,33.6 215.16,88.3 220.56,90.8 228.12,88 243.24,88 258.36,86 273.48,82.2 288.6,79 303.72,72.5 333.96,64.4"/><circle cx="213" cy="33.6" r="1.55" fill="#fff" stroke="#000" stroke-width="1.25"/><circle cx="215.16" cy="88.3" r="1.55" fill="#fff" stroke="#000" stroke-width="1.25"/><circle cx="220.56" cy="90.8" r="1.55" fill="#fff" stroke="#000" stroke-width="1.25"/><circle cx="228.12" cy="88" r="1.55" fill="#fff" stroke="#000" stroke-width="1.25"/><circle cx="243.24" cy="88" r="1.55" fill="#fff" stroke="#000" stroke-width="1.25"/><circle cx="258.36" cy="86" r="1.55" fill="#fff" stroke="#000" stroke-width="1.25"/><circle cx="273.48" cy="82.2" r="1.55" fill="#fff" stroke="#000" stroke-width="1.25"/><circle cx="288.6" cy="79" r="1.55" fill="#fff" stroke="#000" stroke-width="1.25"/><circle cx="303.72" cy="72.5" r="1.55" fill="#fff" stroke="#000" stroke-width="1.25"/><circle cx="333.96" cy="64.4" r="1.55" fill="#fff" stroke="#000" stroke-width="1.25"/>
<polyline fill="none" stroke="#000" stroke-width="1.8" stroke-linejoin="round" points="213,39.4 215.16,92.2 217.32,94 220.56,96 228.12,93.6 243.24,91.2 258.36,87.9 273.48,85.4 288.6,82 303.72,75.6 333.96,68.8"/><circle cx="213" cy="39.4" r="1.55" fill="#fff" stroke="#000" stroke-width="1.25"/><circle cx="215.16" cy="92.2" r="1.55" fill="#fff" stroke="#000" stroke-width="1.25"/><circle cx="217.32" cy="94" r="1.55" fill="#fff" stroke="#000" stroke-width="1.25"/><circle cx="220.56" cy="96" r="1.55" fill="#fff" stroke="#000" stroke-width="1.25"/><circle cx="228.12" cy="93.6" r="1.55" fill="#fff" stroke="#000" stroke-width="1.25"/><circle cx="243.24" cy="91.2" r="1.55" fill="#fff" stroke="#000" stroke-width="1.25"/><circle cx="258.36" cy="87.9" r="1.55" fill="#fff" stroke="#000" stroke-width="1.25"/><circle cx="273.48" cy="85.4" r="1.55" fill="#fff" stroke="#000" stroke-width="1.25"/><circle cx="288.6" cy="82" r="1.55" fill="#fff" stroke="#000" stroke-width="1.25"/><circle cx="303.72" cy="75.6" r="1.55" fill="#fff" stroke="#000" stroke-width="1.25"/><circle cx="333.96" cy="68.8" r="1.55" fill="#fff" stroke="#000" stroke-width="1.25"/>
<polyline fill="none" stroke="#000" stroke-width="1.8" stroke-linejoin="round" points="213,41.7 215.16,90 217.32,93 220.56,95 228.12,93.4 243.24,92.2 258.36,89.6 273.48,85.7 288.6,82.7 303.72,81 333.96,74"/><circle cx="213" cy="41.7" r="1.55" fill="#fff" stroke="#000" stroke-width="1.25"/><circle cx="215.16" cy="90" r="1.55" fill="#fff" stroke="#000" stroke-width="1.25"/><circle cx="217.32" cy="93" r="1.55" fill="#fff" stroke="#000" stroke-width="1.25"/><circle cx="220.56" cy="95" r="1.55" fill="#fff" stroke="#000" stroke-width="1.25"/><circle cx="228.12" cy="93.4" r="1.55" fill="#fff" stroke="#000" stroke-width="1.25"/><circle cx="243.24" cy="92.2" r="1.55" fill="#fff" stroke="#000" stroke-width="1.25"/><circle cx="258.36" cy="89.6" r="1.55" fill="#fff" stroke="#000" stroke-width="1.25"/><circle cx="273.48" cy="85.7" r="1.55" fill="#fff" stroke="#000" stroke-width="1.25"/><circle cx="288.6" cy="82.7" r="1.55" fill="#fff" stroke="#000" stroke-width="1.25"/><circle cx="303.72" cy="81" r="1.55" fill="#fff" stroke="#000" stroke-width="1.25"/><circle cx="333.96" cy="74" r="1.55" fill="#fff" stroke="#000" stroke-width="1.25"/>
<polyline fill="none" stroke="#9e1232" stroke-width="1.8" stroke-linejoin="round" points="213,30.1 215.16,78.2 217.32,82.1 220.56,86.9 223.8,89 228.12,87.9 243.24,86.2 258.36,85.4 273.48,76.4 288.6,77.3 303.72,70.7 333.96,63"/><rect x="211.4" y="28.5" width="3.2" height="3.2" rx="0.7" fill="#fff" stroke="#9e1232" stroke-width="1.3"/><rect x="213.56" y="76.6" width="3.2" height="3.2" rx="0.7" fill="#fff" stroke="#9e1232" stroke-width="1.3"/><rect x="215.72" y="80.5" width="3.2" height="3.2" rx="0.7" fill="#fff" stroke="#9e1232" stroke-width="1.3"/><rect x="218.96" y="85.3" width="3.2" height="3.2" rx="0.7" fill="#fff" stroke="#9e1232" stroke-width="1.3"/><rect x="222.2" y="87.4" width="3.2" height="3.2" rx="0.7" fill="#fff" stroke="#9e1232" stroke-width="1.3"/><rect x="226.52" y="86.3" width="3.2" height="3.2" rx="0.7" fill="#fff" stroke="#9e1232" stroke-width="1.3"/><rect x="241.64" y="84.6" width="3.2" height="3.2" rx="0.7" fill="#fff" stroke="#9e1232" stroke-width="1.3"/><rect x="256.76" y="83.8" width="3.2" height="3.2" rx="0.7" fill="#fff" stroke="#9e1232" stroke-width="1.3"/><rect x="271.88" y="74.8" width="3.2" height="3.2" rx="0.7" fill="#fff" stroke="#9e1232" stroke-width="1.3"/><rect x="287" y="75.7" width="3.2" height="3.2" rx="0.7" fill="#fff" stroke="#9e1232" stroke-width="1.3"/><rect x="302.12" y="69.1" width="3.2" height="3.2" rx="0.7" fill="#fff" stroke="#9e1232" stroke-width="1.3"/><rect x="332.36" y="61.4" width="3.2" height="3.2" rx="0.7" fill="#fff" stroke="#9e1232" stroke-width="1.3"/>
<line x1="272.7" y1="115.5" x2="286.2" y2="115.5" stroke="#9e1232" stroke-width="1.15"/><rect x="278" y="113.9" width="3.2" height="3.2" rx="0.7" fill="#fff" stroke="#9e1232" stroke-width="1.3"/><text x="291.3" y="117.8" class="lg">ADA positive</text><line x1="272.7" y1="123.3" x2="286.2" y2="123.3" stroke="#000" stroke-width="1.35"/><circle cx="279.6" cy="123.3" r="1.55" fill="#fff" stroke="#000" stroke-width="1.25"/><text x="291.3" y="125.6" class="lg">ADA negative</text>
<text x="177.4" y="8.7" class="pl">B</text>
<rect x="208.3" y="193.4" width="129.5" height="117.9" fill="none" stroke="#000" stroke-width="0.95"/><line x1="213" y1="311.3" x2="213" y2="315.7" stroke="#000" stroke-width="0.95"/><text x="213" y="326.8" text-anchor="middle" class="t">0</text><line x1="243.24" y1="311.3" x2="243.24" y2="315.7" stroke="#000" stroke-width="0.95"/><text x="243.24" y="326.8" text-anchor="middle" class="t">28</text><line x1="273.48" y1="311.3" x2="273.48" y2="315.7" stroke="#000" stroke-width="0.95"/><text x="273.48" y="326.8" text-anchor="middle" class="t">56</text><line x1="303.72" y1="311.3" x2="303.72" y2="315.7" stroke="#000" stroke-width="0.95"/><text x="303.72" y="326.8" text-anchor="middle" class="t">84</text><line x1="333.96" y1="311.3" x2="333.96" y2="315.7" stroke="#000" stroke-width="0.95"/><text x="333.96" y="326.8" text-anchor="middle" class="t">112</text><line x1="203.7" y1="197.85" x2="208.3" y2="197.85" stroke="#000" stroke-width="0.95"/><text x="200.8" y="200.5" text-anchor="end" class="t">150</text><line x1="203.7" y1="219.72" x2="208.3" y2="219.72" stroke="#000" stroke-width="0.95"/><text x="200.8" y="222.37" text-anchor="end" class="t">120</text><line x1="203.7" y1="241.59" x2="208.3" y2="241.59" stroke="#000" stroke-width="0.95"/><text x="200.8" y="244.24" text-anchor="end" class="t">90</text><line x1="203.7" y1="263.46" x2="208.3" y2="263.46" stroke="#000" stroke-width="0.95"/><text x="200.8" y="266.11" text-anchor="end" class="t">60</text><line x1="203.7" y1="285.33" x2="208.3" y2="285.33" stroke="#000" stroke-width="0.95"/><text x="200.8" y="287.98" text-anchor="end" class="t">30</text><line x1="203.7" y1="307.2" x2="208.3" y2="307.2" stroke="#000" stroke-width="0.95"/><text x="200.8" y="309.85" text-anchor="end" class="t">0</text><text x="273.65" y="342.4" text-anchor="middle" class="ti">Time after ACE910 administration (day)</text><text transform="translate(183.2,252.35) rotate(-90)" text-anchor="middle" class="ti">APTT with FVIII neutralization (second)</text>
<polyline fill="none" stroke="#000" stroke-width="1.8" stroke-linejoin="round" points="213,212.4 215.16,252.7 217.32,259.7 220.56,264 228.12,267.8 243.24,260.8 258.36,263.1 273.48,258 288.6,252.6 303.72,243.3 333.96,233.3"/><circle cx="213" cy="212.4" r="1.55" fill="#fff" stroke="#000" stroke-width="1.25"/><circle cx="215.16" cy="252.7" r="1.55" fill="#fff" stroke="#000" stroke-width="1.25"/><circle cx="217.32" cy="259.7" r="1.55" fill="#fff" stroke="#000" stroke-width="1.25"/><circle cx="220.56" cy="264" r="1.55" fill="#fff" stroke="#000" stroke-width="1.25"/><circle cx="228.12" cy="267.8" r="1.55" fill="#fff" stroke="#000" stroke-width="1.25"/><circle cx="243.24" cy="260.8" r="1.55" fill="#fff" stroke="#000" stroke-width="1.25"/><circle cx="258.36" cy="263.1" r="1.55" fill="#fff" stroke="#000" stroke-width="1.25"/><circle cx="273.48" cy="258" r="1.55" fill="#fff" stroke="#000" stroke-width="1.25"/><circle cx="288.6" cy="252.6" r="1.55" fill="#fff" stroke="#000" stroke-width="1.25"/><circle cx="303.72" cy="243.3" r="1.55" fill="#fff" stroke="#000" stroke-width="1.25"/><circle cx="333.96" cy="233.3" r="1.55" fill="#fff" stroke="#000" stroke-width="1.25"/>
<polyline fill="none" stroke="#000" stroke-width="1.8" stroke-linejoin="round" points="213,214.3 215.16,260 217.32,266 220.56,268 228.12,270 243.24,267.3 258.36,262 273.48,260.7 288.6,256.6 303.72,253.8 333.96,241.7"/><circle cx="213" cy="214.3" r="1.55" fill="#fff" stroke="#000" stroke-width="1.25"/><circle cx="215.16" cy="260" r="1.55" fill="#fff" stroke="#000" stroke-width="1.25"/><circle cx="217.32" cy="266" r="1.55" fill="#fff" stroke="#000" stroke-width="1.25"/><circle cx="220.56" cy="268" r="1.55" fill="#fff" stroke="#000" stroke-width="1.25"/><circle cx="228.12" cy="270" r="1.55" fill="#fff" stroke="#000" stroke-width="1.25"/><circle cx="243.24" cy="267.3" r="1.55" fill="#fff" stroke="#000" stroke-width="1.25"/><circle cx="258.36" cy="262" r="1.55" fill="#fff" stroke="#000" stroke-width="1.25"/><circle cx="273.48" cy="260.7" r="1.55" fill="#fff" stroke="#000" stroke-width="1.25"/><circle cx="288.6" cy="256.6" r="1.55" fill="#fff" stroke="#000" stroke-width="1.25"/><circle cx="303.72" cy="253.8" r="1.55" fill="#fff" stroke="#000" stroke-width="1.25"/><circle cx="333.96" cy="241.7" r="1.55" fill="#fff" stroke="#000" stroke-width="1.25"/>
<polyline fill="none" stroke="#000" stroke-width="1.8" stroke-linejoin="round" points="213,220.1 215.16,262 217.32,268 220.56,270 228.12,268 243.24,266 258.36,264 273.48,262 288.6,259.6 303.72,256 333.96,246.8"/><circle cx="213" cy="220.1" r="1.55" fill="#fff" stroke="#000" stroke-width="1.25"/><circle cx="215.16" cy="262" r="1.55" fill="#fff" stroke="#000" stroke-width="1.25"/><circle cx="217.32" cy="268" r="1.55" fill="#fff" stroke="#000" stroke-width="1.25"/><circle cx="220.56" cy="270" r="1.55" fill="#fff" stroke="#000" stroke-width="1.25"/><circle cx="228.12" cy="268" r="1.55" fill="#fff" stroke="#000" stroke-width="1.25"/><circle cx="243.24" cy="266" r="1.55" fill="#fff" stroke="#000" stroke-width="1.25"/><circle cx="258.36" cy="264" r="1.55" fill="#fff" stroke="#000" stroke-width="1.25"/><circle cx="273.48" cy="262" r="1.55" fill="#fff" stroke="#000" stroke-width="1.25"/><circle cx="288.6" cy="259.6" r="1.55" fill="#fff" stroke="#000" stroke-width="1.25"/><circle cx="303.72" cy="256" r="1.55" fill="#fff" stroke="#000" stroke-width="1.25"/><circle cx="333.96" cy="246.8" r="1.55" fill="#fff" stroke="#000" stroke-width="1.25"/>
<polyline fill="none" stroke="#000" stroke-width="1.8" stroke-linejoin="round" points="213,222 215.16,265 217.32,270 220.56,272 228.12,272 243.24,270 258.36,269.6 273.48,267.2 288.6,263.1 303.72,261.9 333.96,252.6"/><circle cx="213" cy="222" r="1.55" fill="#fff" stroke="#000" stroke-width="1.25"/><circle cx="215.16" cy="265" r="1.55" fill="#fff" stroke="#000" stroke-width="1.25"/><circle cx="217.32" cy="270" r="1.55" fill="#fff" stroke="#000" stroke-width="1.25"/><circle cx="220.56" cy="272" r="1.55" fill="#fff" stroke="#000" stroke-width="1.25"/><circle cx="228.12" cy="272" r="1.55" fill="#fff" stroke="#000" stroke-width="1.25"/><circle cx="243.24" cy="270" r="1.55" fill="#fff" stroke="#000" stroke-width="1.25"/><circle cx="258.36" cy="269.6" r="1.55" fill="#fff" stroke="#000" stroke-width="1.25"/><circle cx="273.48" cy="267.2" r="1.55" fill="#fff" stroke="#000" stroke-width="1.25"/><circle cx="288.6" cy="263.1" r="1.55" fill="#fff" stroke="#000" stroke-width="1.25"/><circle cx="303.72" cy="261.9" r="1.55" fill="#fff" stroke="#000" stroke-width="1.25"/><circle cx="333.96" cy="252.6" r="1.55" fill="#fff" stroke="#000" stroke-width="1.25"/>
<polyline fill="none" stroke="#000" stroke-width="1.8" stroke-linejoin="round" points="213,224 215.16,262 217.32,265 220.56,268 228.12,268 243.24,266 258.36,265 273.48,263 288.6,260 303.72,257 333.96,249.1"/><circle cx="213" cy="224" r="1.55" fill="#fff" stroke="#000" stroke-width="1.25"/><circle cx="215.16" cy="262" r="1.55" fill="#fff" stroke="#000" stroke-width="1.25"/><circle cx="217.32" cy="265" r="1.55" fill="#fff" stroke="#000" stroke-width="1.25"/><circle cx="220.56" cy="268" r="1.55" fill="#fff" stroke="#000" stroke-width="1.25"/><circle cx="228.12" cy="268" r="1.55" fill="#fff" stroke="#000" stroke-width="1.25"/><circle cx="243.24" cy="266" r="1.55" fill="#fff" stroke="#000" stroke-width="1.25"/><circle cx="258.36" cy="265" r="1.55" fill="#fff" stroke="#000" stroke-width="1.25"/><circle cx="273.48" cy="263" r="1.55" fill="#fff" stroke="#000" stroke-width="1.25"/><circle cx="288.6" cy="260" r="1.55" fill="#fff" stroke="#000" stroke-width="1.25"/><circle cx="303.72" cy="257" r="1.55" fill="#fff" stroke="#000" stroke-width="1.25"/><circle cx="333.96" cy="249.1" r="1.55" fill="#fff" stroke="#000" stroke-width="1.25"/>
<polyline fill="none" stroke="#9e1232" stroke-width="1.8" stroke-linejoin="round" points="213,217.8 215.16,255 216.24,266.6 220.56,270.8 228.12,272.4 243.24,271.3 258.36,258 273.48,217.8 288.6,221.7 303.72,221.7 333.96,221.7"/><rect x="211.4" y="216.2" width="3.2" height="3.2" rx="0.7" fill="#fff" stroke="#9e1232" stroke-width="1.3"/><rect x="213.56" y="253.4" width="3.2" height="3.2" rx="0.7" fill="#fff" stroke="#9e1232" stroke-width="1.3"/><rect x="214.64" y="265" width="3.2" height="3.2" rx="0.7" fill="#fff" stroke="#9e1232" stroke-width="1.3"/><rect x="218.96" y="269.2" width="3.2" height="3.2" rx="0.7" fill="#fff" stroke="#9e1232" stroke-width="1.3"/><rect x="226.52" y="270.8" width="3.2" height="3.2" rx="0.7" fill="#fff" stroke="#9e1232" stroke-width="1.3"/><rect x="241.64" y="269.7" width="3.2" height="3.2" rx="0.7" fill="#fff" stroke="#9e1232" stroke-width="1.3"/><rect x="256.76" y="256.4" width="3.2" height="3.2" rx="0.7" fill="#fff" stroke="#9e1232" stroke-width="1.3"/><rect x="271.88" y="216.2" width="3.2" height="3.2" rx="0.7" fill="#fff" stroke="#9e1232" stroke-width="1.3"/><rect x="287" y="220.1" width="3.2" height="3.2" rx="0.7" fill="#fff" stroke="#9e1232" stroke-width="1.3"/><rect x="302.12" y="220.1" width="3.2" height="3.2" rx="0.7" fill="#fff" stroke="#9e1232" stroke-width="1.3"/><rect x="332.36" y="220.1" width="3.2" height="3.2" rx="0.7" fill="#fff" stroke="#9e1232" stroke-width="1.3"/>
<line x1="272.7" y1="293.3" x2="286.2" y2="293.3" stroke="#9e1232" stroke-width="1.15"/><rect x="278" y="291.7" width="3.2" height="3.2" rx="0.7" fill="#fff" stroke="#9e1232" stroke-width="1.3"/><text x="291.3" y="295.6" class="lg">ADA positive</text><line x1="272.7" y1="301.1" x2="286.2" y2="301.1" stroke="#000" stroke-width="1.35"/><circle cx="279.6" cy="301.1" r="1.55" fill="#fff" stroke="#000" stroke-width="1.25"/><text x="291.3" y="303.4" class="lg">ADA negative</text>
<text x="177.4" y="187.1" class="pl">E</text>
<rect x="389.2" y="16.5" width="130" height="118.1" fill="none" stroke="#000" stroke-width="0.95"/><line x1="394.4" y1="134.6" x2="394.4" y2="139" stroke="#000" stroke-width="0.95"/><text x="394.4" y="149" text-anchor="middle" class="t">0</text><line x1="424.56" y1="134.6" x2="424.56" y2="139" stroke="#000" stroke-width="0.95"/><text x="424.56" y="149" text-anchor="middle" class="t">28</text><line x1="454.71" y1="134.6" x2="454.71" y2="139" stroke="#000" stroke-width="0.95"/><text x="454.71" y="149" text-anchor="middle" class="t">56</text><line x1="484.87" y1="134.6" x2="484.87" y2="139" stroke="#000" stroke-width="0.95"/><text x="484.87" y="149" text-anchor="middle" class="t">84</text><line x1="515.02" y1="134.6" x2="515.02" y2="139" stroke="#000" stroke-width="0.95"/><text x="515.02" y="149" text-anchor="middle" class="t">112</text><line x1="384.6" y1="20.6" x2="389.2" y2="20.6" stroke="#000" stroke-width="0.95"/><text x="382" y="23.25" text-anchor="end" class="t">100</text><line x1="384.6" y1="48.08" x2="389.2" y2="48.08" stroke="#000" stroke-width="0.95"/><text x="382" y="50.73" text-anchor="end" class="t">75</text><line x1="384.6" y1="75.55" x2="389.2" y2="75.55" stroke="#000" stroke-width="0.95"/><text x="382" y="78.2" text-anchor="end" class="t">50</text><line x1="384.6" y1="103.03" x2="389.2" y2="103.03" stroke="#000" stroke-width="0.95"/><text x="382" y="105.68" text-anchor="end" class="t">25</text><line x1="384.6" y1="130.5" x2="389.2" y2="130.5" stroke="#000" stroke-width="0.95"/><text x="382" y="133.15" text-anchor="end" class="t">0</text><text x="454.8" y="164.6" text-anchor="middle" class="ti">Time after ACE910 administration (day)</text><text transform="translate(364.5,76.55) rotate(-90)" text-anchor="middle" class="ti">Peak height with FVIII neutralization (nM)</text>
<polyline fill="none" stroke="#000" stroke-width="1.8" stroke-linejoin="round" points="394.4,128.2 395.48,100 397.63,49 401.94,41.3 409.48,29.7 424.56,78.5 439.63,87.6 454.71,101.1 469.79,98.9 484.87,110.5 515.02,119.3"/><circle cx="394.4" cy="128.2" r="1.55" fill="#fff" stroke="#000" stroke-width="1.25"/><circle cx="395.48" cy="100" r="1.55" fill="#fff" stroke="#000" stroke-width="1.25"/><circle cx="397.63" cy="49" r="1.55" fill="#fff" stroke="#000" stroke-width="1.25"/><circle cx="401.94" cy="41.3" r="1.55" fill="#fff" stroke="#000" stroke-width="1.25"/><circle cx="409.48" cy="29.7" r="1.55" fill="#fff" stroke="#000" stroke-width="1.25"/><circle cx="424.56" cy="78.5" r="1.55" fill="#fff" stroke="#000" stroke-width="1.25"/><circle cx="439.63" cy="87.6" r="1.55" fill="#fff" stroke="#000" stroke-width="1.25"/><circle cx="454.71" cy="101.1" r="1.55" fill="#fff" stroke="#000" stroke-width="1.25"/><circle cx="469.79" cy="98.9" r="1.55" fill="#fff" stroke="#000" stroke-width="1.25"/><circle cx="484.87" cy="110.5" r="1.55" fill="#fff" stroke="#000" stroke-width="1.25"/><circle cx="515.02" cy="119.3" r="1.55" fill="#fff" stroke="#000" stroke-width="1.25"/>
<polyline fill="none" stroke="#000" stroke-width="1.8" stroke-linejoin="round" points="394.4,128.2 397.63,86 401.94,62 409.48,37.8 424.56,88.3 439.63,95.3 454.71,113.1 469.79,96.3 484.87,116.3 515.02,122.5"/><circle cx="394.4" cy="128.2" r="1.55" fill="#fff" stroke="#000" stroke-width="1.25"/><circle cx="397.63" cy="86" r="1.55" fill="#fff" stroke="#000" stroke-width="1.25"/><circle cx="401.94" cy="62" r="1.55" fill="#fff" stroke="#000" stroke-width="1.25"/><circle cx="409.48" cy="37.8" r="1.55" fill="#fff" stroke="#000" stroke-width="1.25"/><circle cx="424.56" cy="88.3" r="1.55" fill="#fff" stroke="#000" stroke-width="1.25"/><circle cx="439.63" cy="95.3" r="1.55" fill="#fff" stroke="#000" stroke-width="1.25"/><circle cx="454.71" cy="113.1" r="1.55" fill="#fff" stroke="#000" stroke-width="1.25"/><circle cx="469.79" cy="96.3" r="1.55" fill="#fff" stroke="#000" stroke-width="1.25"/><circle cx="484.87" cy="116.3" r="1.55" fill="#fff" stroke="#000" stroke-width="1.25"/><circle cx="515.02" cy="122.5" r="1.55" fill="#fff" stroke="#000" stroke-width="1.25"/>
<polyline fill="none" stroke="#000" stroke-width="1.8" stroke-linejoin="round" points="394.4,128.2 397.63,94.7 401.94,60 409.48,54.8 424.56,94.9 439.63,100 454.71,119.5 469.79,107.3 484.87,122.4 515.02,126.4"/><circle cx="394.4" cy="128.2" r="1.55" fill="#fff" stroke="#000" stroke-width="1.25"/><circle cx="397.63" cy="94.7" r="1.55" fill="#fff" stroke="#000" stroke-width="1.25"/><circle cx="401.94" cy="60" r="1.55" fill="#fff" stroke="#000" stroke-width="1.25"/><circle cx="409.48" cy="54.8" r="1.55" fill="#fff" stroke="#000" stroke-width="1.25"/><circle cx="424.56" cy="94.9" r="1.55" fill="#fff" stroke="#000" stroke-width="1.25"/><circle cx="439.63" cy="100" r="1.55" fill="#fff" stroke="#000" stroke-width="1.25"/><circle cx="454.71" cy="119.5" r="1.55" fill="#fff" stroke="#000" stroke-width="1.25"/><circle cx="469.79" cy="107.3" r="1.55" fill="#fff" stroke="#000" stroke-width="1.25"/><circle cx="484.87" cy="122.4" r="1.55" fill="#fff" stroke="#000" stroke-width="1.25"/><circle cx="515.02" cy="126.4" r="1.55" fill="#fff" stroke="#000" stroke-width="1.25"/>
<polyline fill="none" stroke="#000" stroke-width="1.8" stroke-linejoin="round" points="394.4,128.2 397.63,81.6 401.94,65 409.48,60.6 424.56,83 439.63,98 454.71,110 469.79,113 484.87,126.2 515.02,125"/><circle cx="394.4" cy="128.2" r="1.55" fill="#fff" stroke="#000" stroke-width="1.25"/><circle cx="397.63" cy="81.6" r="1.55" fill="#fff" stroke="#000" stroke-width="1.25"/><circle cx="401.94" cy="65" r="1.55" fill="#fff" stroke="#000" stroke-width="1.25"/><circle cx="409.48" cy="60.6" r="1.55" fill="#fff" stroke="#000" stroke-width="1.25"/><circle cx="424.56" cy="83" r="1.55" fill="#fff" stroke="#000" stroke-width="1.25"/><circle cx="439.63" cy="98" r="1.55" fill="#fff" stroke="#000" stroke-width="1.25"/><circle cx="454.71" cy="110" r="1.55" fill="#fff" stroke="#000" stroke-width="1.25"/><circle cx="469.79" cy="113" r="1.55" fill="#fff" stroke="#000" stroke-width="1.25"/><circle cx="484.87" cy="126.2" r="1.55" fill="#fff" stroke="#000" stroke-width="1.25"/><circle cx="515.02" cy="125" r="1.55" fill="#fff" stroke="#000" stroke-width="1.25"/>
<polyline fill="none" stroke="#000" stroke-width="1.8" stroke-linejoin="round" points="394.4,128.2 396.55,106.9 398.71,75.5 401.94,66 409.48,65 424.56,90 439.63,96 454.71,105 469.79,111 484.87,120 515.02,124"/><circle cx="394.4" cy="128.2" r="1.55" fill="#fff" stroke="#000" stroke-width="1.25"/><circle cx="396.55" cy="106.9" r="1.55" fill="#fff" stroke="#000" stroke-width="1.25"/><circle cx="398.71" cy="75.5" r="1.55" fill="#fff" stroke="#000" stroke-width="1.25"/><circle cx="401.94" cy="66" r="1.55" fill="#fff" stroke="#000" stroke-width="1.25"/><circle cx="409.48" cy="65" r="1.55" fill="#fff" stroke="#000" stroke-width="1.25"/><circle cx="424.56" cy="90" r="1.55" fill="#fff" stroke="#000" stroke-width="1.25"/><circle cx="439.63" cy="96" r="1.55" fill="#fff" stroke="#000" stroke-width="1.25"/><circle cx="454.71" cy="105" r="1.55" fill="#fff" stroke="#000" stroke-width="1.25"/><circle cx="469.79" cy="111" r="1.55" fill="#fff" stroke="#000" stroke-width="1.25"/><circle cx="484.87" cy="120" r="1.55" fill="#fff" stroke="#000" stroke-width="1.25"/><circle cx="515.02" cy="124" r="1.55" fill="#fff" stroke="#000" stroke-width="1.25"/>
<polyline fill="none" stroke="#9e1232" stroke-width="1.8" stroke-linejoin="round" points="394.4,128.2 396.55,100 397.63,86.5 398.71,76 401.94,53.4 409.48,81.5 424.56,105 439.63,98.9 454.71,108.8 469.79,115.2 484.87,119.5 515.02,123.6"/><rect x="392.8" y="126.6" width="3.2" height="3.2" rx="0.7" fill="#fff" stroke="#9e1232" stroke-width="1.3"/><rect x="394.95" y="98.4" width="3.2" height="3.2" rx="0.7" fill="#fff" stroke="#9e1232" stroke-width="1.3"/><rect x="396.03" y="84.9" width="3.2" height="3.2" rx="0.7" fill="#fff" stroke="#9e1232" stroke-width="1.3"/><rect x="397.11" y="74.4" width="3.2" height="3.2" rx="0.7" fill="#fff" stroke="#9e1232" stroke-width="1.3"/><rect x="400.34" y="51.8" width="3.2" height="3.2" rx="0.7" fill="#fff" stroke="#9e1232" stroke-width="1.3"/><rect x="407.88" y="79.9" width="3.2" height="3.2" rx="0.7" fill="#fff" stroke="#9e1232" stroke-width="1.3"/><rect x="422.96" y="103.4" width="3.2" height="3.2" rx="0.7" fill="#fff" stroke="#9e1232" stroke-width="1.3"/><rect x="438.03" y="97.3" width="3.2" height="3.2" rx="0.7" fill="#fff" stroke="#9e1232" stroke-width="1.3"/><rect x="453.11" y="107.2" width="3.2" height="3.2" rx="0.7" fill="#fff" stroke="#9e1232" stroke-width="1.3"/><rect x="468.19" y="113.6" width="3.2" height="3.2" rx="0.7" fill="#fff" stroke="#9e1232" stroke-width="1.3"/><rect x="483.27" y="117.9" width="3.2" height="3.2" rx="0.7" fill="#fff" stroke="#9e1232" stroke-width="1.3"/><rect x="513.42" y="122" width="3.2" height="3.2" rx="0.7" fill="#fff" stroke="#9e1232" stroke-width="1.3"/>
<line x1="453.7" y1="28.8" x2="467.2" y2="28.8" stroke="#9e1232" stroke-width="1.15"/><rect x="459" y="27.2" width="3.2" height="3.2" rx="0.7" fill="#fff" stroke="#9e1232" stroke-width="1.3"/><text x="472.6" y="31.1" class="lg">ADA positive</text><line x1="453.7" y1="36.6" x2="467.2" y2="36.6" stroke="#000" stroke-width="1.35"/><circle cx="460.6" cy="36.6" r="1.55" fill="#fff" stroke="#000" stroke-width="1.25"/><text x="472.6" y="38.9" class="lg">ADA negative</text>
<text x="358.8" y="8.7" class="pl">C</text>
<rect x="389.2" y="194.3" width="130" height="118.1" fill="none" stroke="#000" stroke-width="0.95"/><line x1="394.4" y1="312.4" x2="394.4" y2="316.8" stroke="#000" stroke-width="0.95"/><text x="394.4" y="326.8" text-anchor="middle" class="t">0</text><line x1="424.56" y1="312.4" x2="424.56" y2="316.8" stroke="#000" stroke-width="0.95"/><text x="424.56" y="326.8" text-anchor="middle" class="t">28</text><line x1="454.71" y1="312.4" x2="454.71" y2="316.8" stroke="#000" stroke-width="0.95"/><text x="454.71" y="326.8" text-anchor="middle" class="t">56</text><line x1="484.87" y1="312.4" x2="484.87" y2="316.8" stroke="#000" stroke-width="0.95"/><text x="484.87" y="326.8" text-anchor="middle" class="t">84</text><line x1="515.02" y1="312.4" x2="515.02" y2="316.8" stroke="#000" stroke-width="0.95"/><text x="515.02" y="326.8" text-anchor="middle" class="t">112</text><line x1="384.6" y1="198.4" x2="389.2" y2="198.4" stroke="#000" stroke-width="0.95"/><text x="382" y="201.05" text-anchor="end" class="t">100</text><line x1="384.6" y1="225.88" x2="389.2" y2="225.88" stroke="#000" stroke-width="0.95"/><text x="382" y="228.53" text-anchor="end" class="t">75</text><line x1="384.6" y1="253.35" x2="389.2" y2="253.35" stroke="#000" stroke-width="0.95"/><text x="382" y="256" text-anchor="end" class="t">50</text><line x1="384.6" y1="280.83" x2="389.2" y2="280.83" stroke="#000" stroke-width="0.95"/><text x="382" y="283.48" text-anchor="end" class="t">25</text><line x1="384.6" y1="308.3" x2="389.2" y2="308.3" stroke="#000" stroke-width="0.95"/><text x="382" y="310.95" text-anchor="end" class="t">0</text><text x="454.8" y="342.4" text-anchor="middle" class="ti">Time after ACE910 administration (day)</text><text transform="translate(364.5,254.35) rotate(-90)" text-anchor="middle" class="ti">Peak height with FVIII neutralization (nM)</text>
<polyline fill="none" stroke="#000" stroke-width="1.8" stroke-linejoin="round" points="394.4,306 396.55,270 397.63,250 401.94,213.6 409.48,208.5 424.56,237 439.63,267.7 454.71,267.6 469.79,269.5 484.87,271.9 515.02,287"/><circle cx="394.4" cy="306" r="1.55" fill="#fff" stroke="#000" stroke-width="1.25"/><circle cx="396.55" cy="270" r="1.55" fill="#fff" stroke="#000" stroke-width="1.25"/><circle cx="397.63" cy="250" r="1.55" fill="#fff" stroke="#000" stroke-width="1.25"/><circle cx="401.94" cy="213.6" r="1.55" fill="#fff" stroke="#000" stroke-width="1.25"/><circle cx="409.48" cy="208.5" r="1.55" fill="#fff" stroke="#000" stroke-width="1.25"/><circle cx="424.56" cy="237" r="1.55" fill="#fff" stroke="#000" stroke-width="1.25"/><circle cx="439.63" cy="267.7" r="1.55" fill="#fff" stroke="#000" stroke-width="1.25"/><circle cx="454.71" cy="267.6" r="1.55" fill="#fff" stroke="#000" stroke-width="1.25"/><circle cx="469.79" cy="269.5" r="1.55" fill="#fff" stroke="#000" stroke-width="1.25"/><circle cx="484.87" cy="271.9" r="1.55" fill="#fff" stroke="#000" stroke-width="1.25"/><circle cx="515.02" cy="287" r="1.55" fill="#fff" stroke="#000" stroke-width="1.25"/>
<polyline fill="none" stroke="#000" stroke-width="1.8" stroke-linejoin="round" points="394.4,306 396.55,262 397.63,247.7 401.94,222 409.48,226 424.56,257.3 439.63,276.5 454.71,271.3 469.79,273 484.87,276 515.02,292.8"/><circle cx="394.4" cy="306" r="1.55" fill="#fff" stroke="#000" stroke-width="1.25"/><circle cx="396.55" cy="262" r="1.55" fill="#fff" stroke="#000" stroke-width="1.25"/><circle cx="397.63" cy="247.7" r="1.55" fill="#fff" stroke="#000" stroke-width="1.25"/><circle cx="401.94" cy="222" r="1.55" fill="#fff" stroke="#000" stroke-width="1.25"/><circle cx="409.48" cy="226" r="1.55" fill="#fff" stroke="#000" stroke-width="1.25"/><circle cx="424.56" cy="257.3" r="1.55" fill="#fff" stroke="#000" stroke-width="1.25"/><circle cx="439.63" cy="276.5" r="1.55" fill="#fff" stroke="#000" stroke-width="1.25"/><circle cx="454.71" cy="271.3" r="1.55" fill="#fff" stroke="#000" stroke-width="1.25"/><circle cx="469.79" cy="273" r="1.55" fill="#fff" stroke="#000" stroke-width="1.25"/><circle cx="484.87" cy="276" r="1.55" fill="#fff" stroke="#000" stroke-width="1.25"/><circle cx="515.02" cy="292.8" r="1.55" fill="#fff" stroke="#000" stroke-width="1.25"/>
<polyline fill="none" stroke="#000" stroke-width="1.8" stroke-linejoin="round" points="394.4,306 396.55,275 397.63,259.9 401.94,226.4 409.48,238.6 424.56,261.6 439.63,276.5 454.71,288.1 469.79,288.1 484.87,291.6 515.02,300.9"/><circle cx="394.4" cy="306" r="1.55" fill="#fff" stroke="#000" stroke-width="1.25"/><circle cx="396.55" cy="275" r="1.55" fill="#fff" stroke="#000" stroke-width="1.25"/><circle cx="397.63" cy="259.9" r="1.55" fill="#fff" stroke="#000" stroke-width="1.25"/><circle cx="401.94" cy="226.4" r="1.55" fill="#fff" stroke="#000" stroke-width="1.25"/><circle cx="409.48" cy="238.6" r="1.55" fill="#fff" stroke="#000" stroke-width="1.25"/><circle cx="424.56" cy="261.6" r="1.55" fill="#fff" stroke="#000" stroke-width="1.25"/><circle cx="439.63" cy="276.5" r="1.55" fill="#fff" stroke="#000" stroke-width="1.25"/><circle cx="454.71" cy="288.1" r="1.55" fill="#fff" stroke="#000" stroke-width="1.25"/><circle cx="469.79" cy="288.1" r="1.55" fill="#fff" stroke="#000" stroke-width="1.25"/><circle cx="484.87" cy="291.6" r="1.55" fill="#fff" stroke="#000" stroke-width="1.25"/><circle cx="515.02" cy="300.9" r="1.55" fill="#fff" stroke="#000" stroke-width="1.25"/>
<polyline fill="none" stroke="#000" stroke-width="1.8" stroke-linejoin="round" points="394.4,306 396.55,289 397.63,266.9 401.94,232 409.48,245.1 424.56,239 439.63,267.7 454.71,284.7 469.79,282.3 484.87,284.7 515.02,298.6"/><circle cx="394.4" cy="306" r="1.55" fill="#fff" stroke="#000" stroke-width="1.25"/><circle cx="396.55" cy="289" r="1.55" fill="#fff" stroke="#000" stroke-width="1.25"/><circle cx="397.63" cy="266.9" r="1.55" fill="#fff" stroke="#000" stroke-width="1.25"/><circle cx="401.94" cy="232" r="1.55" fill="#fff" stroke="#000" stroke-width="1.25"/><circle cx="409.48" cy="245.1" r="1.55" fill="#fff" stroke="#000" stroke-width="1.25"/><circle cx="424.56" cy="239" r="1.55" fill="#fff" stroke="#000" stroke-width="1.25"/><circle cx="439.63" cy="267.7" r="1.55" fill="#fff" stroke="#000" stroke-width="1.25"/><circle cx="454.71" cy="284.7" r="1.55" fill="#fff" stroke="#000" stroke-width="1.25"/><circle cx="469.79" cy="282.3" r="1.55" fill="#fff" stroke="#000" stroke-width="1.25"/><circle cx="484.87" cy="284.7" r="1.55" fill="#fff" stroke="#000" stroke-width="1.25"/><circle cx="515.02" cy="298.6" r="1.55" fill="#fff" stroke="#000" stroke-width="1.25"/>
<polyline fill="none" stroke="#9e1232" stroke-width="1.8" stroke-linejoin="round" points="394.4,305.3 396.55,266.7 397.63,259.2 401.94,237.5 409.48,257 424.56,240.5 439.63,293.3 454.71,305.6 469.79,305.6 484.87,305.6 515.02,305.6"/><rect x="392.8" y="303.7" width="3.2" height="3.2" rx="0.7" fill="#fff" stroke="#9e1232" stroke-width="1.3"/><rect x="394.95" y="265.1" width="3.2" height="3.2" rx="0.7" fill="#fff" stroke="#9e1232" stroke-width="1.3"/><rect x="396.03" y="257.6" width="3.2" height="3.2" rx="0.7" fill="#fff" stroke="#9e1232" stroke-width="1.3"/><rect x="400.34" y="235.9" width="3.2" height="3.2" rx="0.7" fill="#fff" stroke="#9e1232" stroke-width="1.3"/><rect x="407.88" y="255.4" width="3.2" height="3.2" rx="0.7" fill="#fff" stroke="#9e1232" stroke-width="1.3"/><rect x="422.96" y="238.9" width="3.2" height="3.2" rx="0.7" fill="#fff" stroke="#9e1232" stroke-width="1.3"/><rect x="438.03" y="291.7" width="3.2" height="3.2" rx="0.7" fill="#fff" stroke="#9e1232" stroke-width="1.3"/><rect x="453.11" y="304" width="3.2" height="3.2" rx="0.7" fill="#fff" stroke="#9e1232" stroke-width="1.3"/><rect x="468.19" y="304" width="3.2" height="3.2" rx="0.7" fill="#fff" stroke="#9e1232" stroke-width="1.3"/><rect x="483.27" y="304" width="3.2" height="3.2" rx="0.7" fill="#fff" stroke="#9e1232" stroke-width="1.3"/><rect x="513.42" y="304" width="3.2" height="3.2" rx="0.7" fill="#fff" stroke="#9e1232" stroke-width="1.3"/>
<line x1="453.7" y1="206.6" x2="467.2" y2="206.6" stroke="#9e1232" stroke-width="1.15"/><rect x="459" y="205" width="3.2" height="3.2" rx="0.7" fill="#fff" stroke="#9e1232" stroke-width="1.3"/><text x="472.6" y="208.9" class="lg">ADA positive</text><line x1="453.7" y1="214.4" x2="467.2" y2="214.4" stroke="#000" stroke-width="1.35"/><circle cx="460.6" cy="214.4" r="1.55" fill="#fff" stroke="#000" stroke-width="1.25"/><text x="472.6" y="216.7" class="lg">ADA negative</text>
<text x="358.8" y="187.1" class="pl">F</text>
</svg></body></html>
